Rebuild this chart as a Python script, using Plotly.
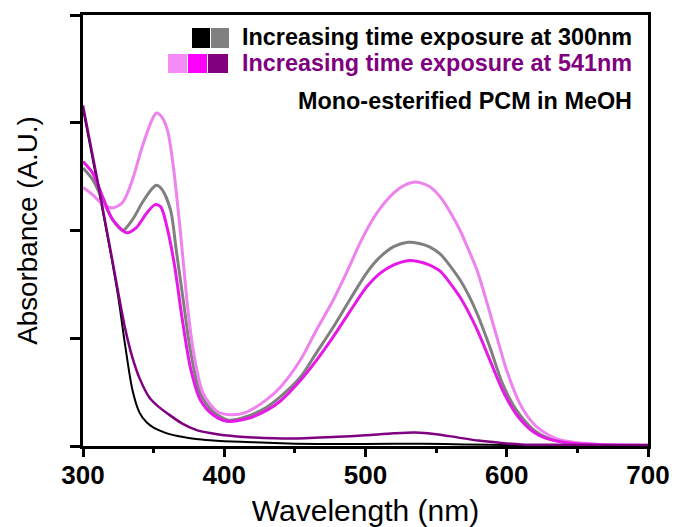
import plotly.graph_objects as go

# UV-Vis spectra of mono-esterified PCM in MeOH under irradiation
# 300 nm exposure series
wl_300_a = [300, 305, 310, 315, 320, 325, 330, 335, 340, 345, 350, 355, 360, 370, 380, 390,
            400, 420, 450, 480, 520, 540, 570, 600, 650, 700]
abs_300_a = [3.13, 2.79, 2.45, 2.11, 1.76, 1.38, 0.92, 0.52, 0.31, 0.22, 0.17, 0.14, 0.115, 0.085,
             0.065, 0.053, 0.045, 0.035, 0.022, 0.018, 0.02, 0.02, 0.015, 0.01, 0.006, 0.005]

wl_300_b = [300, 307, 314, 321, 328, 335, 342, 349, 352, 356, 362, 366, 371, 376, 383, 392, 403,
            415, 430, 440, 454, 465, 477, 489, 501, 510, 520, 530, 538, 545, 553, 560, 567, 573,
            579, 588, 597, 607, 619, 628, 638, 650, 670, 700]
abs_300_b = [2.58, 2.47, 2.28, 2.10, 2.00, 2.10, 2.26, 2.39, 2.42, 2.38, 2.19, 1.82, 1.35, 0.89,
             0.49, 0.32, 0.24, 0.27, 0.36, 0.46, 0.64, 0.86, 1.10, 1.36, 1.61, 1.75, 1.85, 1.89,
             1.88, 1.85, 1.78, 1.67, 1.54, 1.40, 1.23, 0.92, 0.58, 0.33, 0.15, 0.08, 0.04, 0.02,
             0.01, 0.008]

# 541 nm exposure series
wl_541_a = [300, 307, 314, 321, 328, 335, 342, 349, 352, 356, 360, 364, 369, 374, 378, 385, 395,
            404, 415, 430, 440, 454, 465, 477, 487, 496, 505, 515, 525, 535, 545, 553, 560, 567,
            573, 579, 586, 593, 600, 609, 615, 621, 630, 638, 650, 666, 685, 700]
abs_541_a = [2.40, 2.33, 2.24, 2.21, 2.26, 2.47, 2.78, 3.03, 3.09, 3.05, 2.92, 2.59, 1.98, 1.30,
             0.89, 0.49, 0.32, 0.29, 0.31, 0.43, 0.55, 0.80, 1.07, 1.35, 1.62, 1.88, 2.10, 2.28,
             2.40, 2.45, 2.41, 2.31, 2.17, 2.00, 1.82, 1.63, 1.33, 1.01, 0.70, 0.40, 0.27, 0.18,
             0.10, 0.056, 0.03, 0.015, 0.01, 0.008]

wl_541_b = [300, 307, 314, 321, 331, 338, 345, 351, 355, 359.5, 365, 370, 376, 383, 392, 402, 415,
            430, 440, 454, 465, 477, 489, 501, 510, 520, 530, 538, 545, 553, 560, 567, 573, 579,
            588, 597, 607, 619, 628, 638, 650, 670, 700]
abs_541_b = [2.64, 2.53, 2.31, 2.10, 1.98, 2.03, 2.16, 2.24, 2.22, 2.03, 1.66, 1.20, 0.73, 0.43,
             0.29, 0.23, 0.25, 0.33, 0.42, 0.61, 0.79, 1.01, 1.25, 1.48, 1.60, 1.68, 1.72, 1.71,
             1.68, 1.62, 1.51, 1.38, 1.24, 1.08, 0.80, 0.52, 0.29, 0.13, 0.07, 0.04, 0.02, 0.01,
             0.008]

wl_541_c = [300, 305, 310, 315, 320, 325, 330, 335, 340, 347, 353, 360, 370, 380, 390, 400, 420,
            450, 480, 500, 520, 535, 550, 565, 580, 595, 610, 640, 700]
abs_541_c = [3.16, 2.82, 2.48, 2.13, 1.78, 1.42, 1.08, 0.82, 0.63, 0.45, 0.37, 0.30, 0.21, 0.15,
             0.12, 0.10, 0.08, 0.07, 0.085, 0.10, 0.118, 0.125, 0.11, 0.08, 0.05, 0.03, 0.015,
             0.01, 0.008]

x_ticks = [300, 400, 500, 600, 700]

BLACK = "#000000"
GRAY = "#808080"
VIOLET = "#EE82EE"
MAGENTA = "#E619E6"
PURPLE = "#800080"

series = [
    (wl_300_a, abs_300_a, BLACK, 2.0),
    (wl_300_b, abs_300_b, GRAY, 3.0),
    (wl_541_a, abs_541_a, VIOLET, 3.0),
    (wl_541_b, abs_541_b, MAGENTA, 3.0),
    (wl_541_c, abs_541_c, PURPLE, 2.5),
]

fig = go.Figure()
for wl, ab, col, w in series:
    fig.add_trace(go.Scatter(x=wl, y=ab, mode="lines",
                             line=dict(color=col, width=w, shape="spline", smoothing=0.8),
                             showlegend=False, hoverinfo="skip"))

# plot area geometry in pixels (for the legend block)
L, R, T, B = 83, 648, 15, 446
def px(x):
    return (x - L) / (R - L)
def py(y):
    return (B - y) / (B - T)

shapes = []
swatches = [
    (192, 210, 28, 48, BLACK),
    (211, 229, 28, 48, GRAY),
    (168, 187, 54, 73, "#F58CF5"),
    (188, 207, 54, 73, "#FF00FF"),
    (208, 228, 54, 73, PURPLE),
]
for x0, x1, y0, y1, col in swatches:
    shapes.append(dict(type="rect", xref="paper", yref="paper",
                       x0=px(x0), x1=px(x1), y0=py(y1), y1=py(y0),
                       fillcolor=col, line=dict(width=0)))

FONT = "Liberation Sans, Arial, sans-serif"
bold = dict(family=FONT, size=23.4, weight="bold")
annotations = [
    dict(text="Increasing time exposure at 300nm", x=px(634), y=py(37.5),
         font=dict(**bold, color=BLACK)),
    dict(text="Increasing time exposure at 541nm", x=px(634), y=py(63.5),
         font=dict(**bold, color=PURPLE)),
    dict(text="Mono-esterified PCM in MeOH", x=px(634), y=py(101),
         font=dict(**bold, color=BLACK)),
]
for a in annotations:
    a.update(xref="paper", yref="paper", xanchor="right", yanchor="middle",
             showarrow=False)

fig.update_layout(
    width=675, height=527,
    margin=dict(l=L, r=675 - R, t=T, b=527 - B, pad=0, autoexpand=False),
    paper_bgcolor="white", plot_bgcolor="white",
    shapes=shapes, annotations=annotations,
    xaxis=dict(
        range=[300, 700], tickvals=x_ticks, ticktext=[str(v) for v in x_ticks],
        ticks="outside", ticklen=8, tickwidth=3, tickcolor="black",
        ticklabelstandoff=-4,
        minor=dict(dtick=50, tick0=300, ticks="outside", ticklen=4, tickwidth=3,
                   tickcolor="black"),
        showline=True, linewidth=3, linecolor="black", mirror=True,
        showgrid=False, zeroline=False, automargin=False,
        tickfont=dict(family=FONT, size=26, weight="bold", color="black"),
        title=dict(text="Wavelength (nm)", standoff=16,
                   font=dict(family=FONT, size=30, color="black")),
    ),
    yaxis=dict(
        range=[0, 4], dtick=1, tick0=0, showticklabels=False,
        ticks="outside", ticklen=10, tickwidth=3, tickcolor="black",
        showline=True, linewidth=3, linecolor="black", mirror=True,
        showgrid=False, zeroline=False, automargin=False,
        title=dict(text="Absorbance (A.U.)", standoff=25,
                   font=dict(family=FONT, size=27.8, color="black")),
    ),
)

fig.write_html("out.html")
